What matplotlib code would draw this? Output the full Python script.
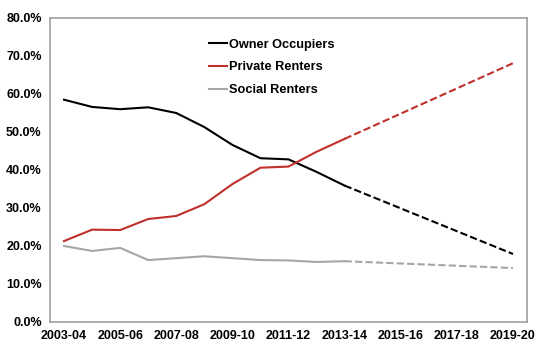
import matplotlib
matplotlib.use("Agg")
import matplotlib.pyplot as plt
from matplotlib.ticker import PercentFormatter

years = ["2003-04", "2004-05", "2005-06", "2006-07", "2007-08", "2008-09",
         "2009-10", "2010-11", "2011-12", "2012-13", "2013-14", "2014-15",
         "2015-16", "2016-17", "2017-18", "2018-19", "2019-20"]
owner = [58.5, 56.6, 56.0, 56.5, 55.0, 51.3, 46.6, 43.1, 42.8, 39.5, 35.9]
private = [21.3, 24.3, 24.2, 27.1, 27.9, 31.0, 36.3, 40.6, 40.9, 44.8, 48.2]
social = [20.0, 18.7, 19.5, 16.3, 16.8, 17.3, 16.8, 16.3, 16.2, 15.8, 16.0]
owner_proj = [35.9, 17.9]
private_proj = [48.2, 68.1]
social_proj = [16.0, 14.2]
yticks = [0, 10, 20, 30, 40, 50, 60, 70, 80]

fig = plt.figure(figsize=(5.4, 3.53), dpi=100)
ax = fig.add_axes([50/540, 1-322/353, 477/540, 304/353])

red = "#c0302a"
x = list(range(len(years)))
n = len(owner)
ax.plot(x[:n], owner, color="black", lw=1.5, label="Owner Occupiers")
ax.plot(x[:n], private, color=red, lw=1.5, label="Private Renters")
ax.plot(x[:n], social, color="#a6a6a6", lw=1.5, label="Social Renters")
px = [x[n-1], x[-1]]
dash = (0, (3.5, 1.5))
ax.plot(px, owner_proj, color="black", lw=1.5, ls=dash)
ax.plot(px, private_proj, color=red, lw=1.5, ls=dash)
ax.plot(px, social_proj, color="#a6a6a6", lw=1.5, ls=dash)

ax.set_xlim(-0.5, len(years) - 0.5)
ax.set_ylim(0, 80)
ax.set_yticks(yticks)
ax.yaxis.set_major_formatter(PercentFormatter(decimals=1))
ax.set_xticks(x[::2])
ax.set_xticklabels(years[::2])
for s in ax.spines.values():
    s.set_color("#a0a0a0")
    s.set_linewidth(1.2)
ax.tick_params(length=0, labelsize=9, pad=6)
for lab in ax.get_xticklabels() + ax.get_yticklabels():
    lab.set_fontweight("bold")
    lab.set_fontfamily("Liberation Sans")

leg = ax.legend(loc="upper left", bbox_to_anchor=(0.31, 0.97), frameon=False,
                handlelength=1.4, handletextpad=0.1, labelspacing=0.85,
                prop={"family": "Liberation Sans", "weight": "bold", "size": 9.2})

fig.savefig("out.png", dpi=100)
